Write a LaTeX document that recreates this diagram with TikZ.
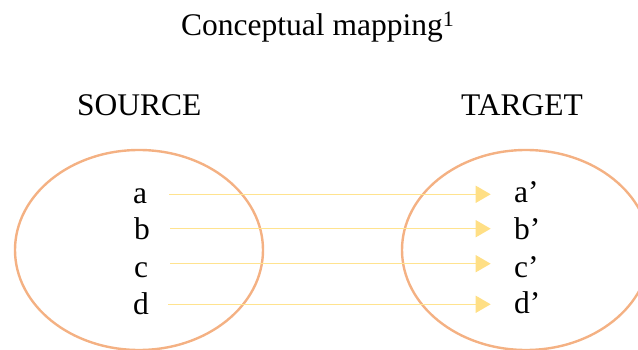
\documentclass[tikz,border=0pt]{standalone}
\usepackage{fontspec}
\setmainfont{Liberation Serif}
\usetikzlibrary{arrows.meta,shapes.geometric}
\definecolor{ringcol}{HTML}{F4B183}
\definecolor{linkcol}{HTML}{FFE38F}
\definecolor{tipcol}{HTML}{FFDF85}
\begin{document}
\begin{tikzpicture}[x=1pt,y=-1pt,
  lbl/.style={font=\fontsize{31.5}{36}\selectfont, inner sep=0pt, anchor=base west},
  ring/.style={ellipse, draw=ringcol, line width=2.4pt, minimum width=248pt, minimum height=200pt, inner sep=0pt},
  link/.style={draw=linkcol, line width=1.5pt, -{Triangle[width=17pt,length=15pt,color=tipcol]}}]
\useasboundingbox (0,0) rectangle (638,350);
\node[ring] (src) at (139,250) {};
\node[ring] (tgt) at (526,250) {};
\node[lbl] (title) at (181,36) {Conceptual mapping\textsuperscript{1}};
\node[lbl] (source) at (77,116) {SOURCE};
\node[lbl] (target) at (461,116) {TARGET};
\node[lbl] (a) at (133,204) {a};
\node[lbl] (b) at (134,240) {b};
\node[lbl] (c) at (134,277) {c};
\node[lbl] (d) at (133,314) {d};
\node[lbl] (a2) at (514,203) {a’};
\node[lbl] (b2) at (514,240) {b’};
\node[lbl] (c2) at (514,277) {c’};
\node[lbl] (d2) at (514,313) {d’};
\coordinate (sa) at (169,194.3); \coordinate (ta) at (490.7,194.3);
\coordinate (sb) at (170,228.7); \coordinate (tb) at (490.7,228.7);
\coordinate (sc) at (170,263.7); \coordinate (tc) at (490.7,263.7);
\coordinate (sd) at (168,304.3); \coordinate (td) at (490.7,304.3);
\draw[link] (sa) -- (ta);
\draw[link] (sb) -- (tb);
\draw[link] (sc) -- (tc);
\draw[link] (sd) -- (td);
\end{tikzpicture}
\end{document}
